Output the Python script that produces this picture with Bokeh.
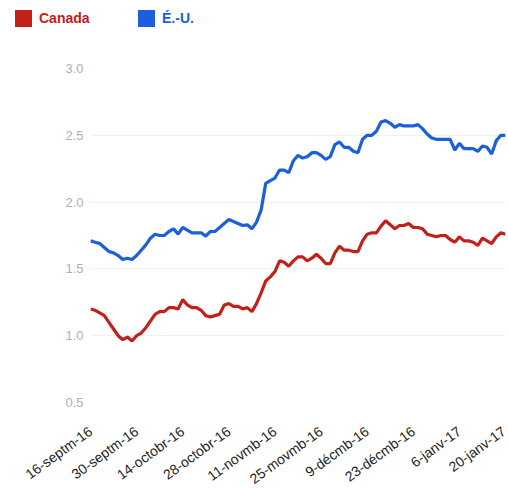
from bokeh.plotting import figure
from bokeh.layouts import column
from bokeh.models import Range1d, FixedTicker, CustomJSTickFormatter, Div
from bokeh.embed import file_html
from bokeh.resources import INLINE

tick_labels = ["16-septm-16", "30-septm-16", "14-octobr-16", "28-octobr-16", "11-novmb-16",
               "25-movmb-16", "9-décmb-16", "23-décmb-16", "6-janv-17", "20-janv-17"]

canada = [1.20, 1.19, 1.17, 1.15, 1.10, 1.05, 1.00, 0.97, 0.99, 0.96,
          1.00, 1.02, 1.06, 1.11, 1.16, 1.18, 1.18, 1.21, 1.21, 1.20,
          1.27, 1.23, 1.21, 1.21, 1.19, 1.15, 1.14, 1.15, 1.16, 1.23,
          1.24, 1.22, 1.22, 1.20, 1.21, 1.18, 1.24, 1.32, 1.41, 1.44,
          1.48, 1.56, 1.55, 1.52, 1.56, 1.59, 1.59, 1.56, 1.58, 1.61,
          1.58, 1.54, 1.54, 1.62, 1.67, 1.64, 1.64, 1.63, 1.63, 1.71,
          1.76, 1.77, 1.77, 1.82, 1.86, 1.83, 1.80, 1.825, 1.825, 1.84,
          1.81, 1.81, 1.80, 1.76, 1.75, 1.74, 1.75, 1.75, 1.72, 1.70,
          1.74, 1.71, 1.71, 1.70, 1.675, 1.73, 1.71, 1.69, 1.74, 1.77,
          1.76]

usa = [1.71, 1.70, 1.69, 1.66, 1.63, 1.62, 1.60, 1.57, 1.58, 1.57,
       1.60, 1.64, 1.68, 1.73, 1.76, 1.75, 1.75, 1.78, 1.80, 1.76,
       1.81, 1.79, 1.77, 1.77, 1.77, 1.745, 1.78, 1.78, 1.81, 1.84,
       1.87, 1.855, 1.84, 1.825, 1.83, 1.80, 1.85, 1.94, 2.14, 2.16,
       2.18, 2.24, 2.24, 2.22, 2.31, 2.35, 2.33, 2.34, 2.37, 2.37,
       2.35, 2.32, 2.34, 2.43, 2.45, 2.41, 2.41, 2.38, 2.37, 2.47,
       2.50, 2.50, 2.53, 2.60, 2.61, 2.59, 2.56, 2.58, 2.57, 2.57,
       2.57, 2.58, 2.55, 2.51, 2.48, 2.47, 2.47, 2.47, 2.47, 2.39,
       2.44, 2.40, 2.40, 2.40, 2.38, 2.42, 2.41, 2.36, 2.46, 2.50,
       2.50]

series_names = ["Canada", "É.-U."]

RED = "#c22018"
BLUE = "#1c5fdc"
FONT = "Liberation Sans"

xs = list(range(len(canada)))
tick_pos = list(range(0, len(canada), 10))

# ---- legend strip on top (HTML) ----
items_html = ""
for name, color, x0 in [(series_names[0], RED, 15), (series_names[1], BLUE, 138)]:
    items_html += (
        f'<span style="position:absolute;left:{x0}px;top:10px;width:17px;height:17px;'
        f'background:{color};"></span>'
        f'<span style="position:absolute;left:{x0 + 24}px;top:10px;line-height:17px;'
        f'color:{color};font-family:\'{FONT}\';font-weight:bold;font-size:14px;'
        f'white-space:nowrap;">{name}</span>'
    )
legend_div = Div(text=f'<div style="position:relative;width:500px;height:44px;">{items_html}</div>',
                 width=500, height=44, margin=0)

# ---- main chart ----
p = figure(frame_width=415, frame_height=334, output_backend="svg", toolbar_location=None,
           x_range=Range1d(0, len(canada) - 1), y_range=Range1d(0.5, 3.0),
           min_border_left=90, min_border_right=3, min_border_top=24, min_border_bottom=80)
p.outline_line_color = None

p.line(xs, canada, line_color=RED, line_width=3.2)
p.line(xs, usa, line_color=BLUE, line_width=3.2)

p.yaxis.ticker = FixedTicker(ticks=[0.5, 1.0, 1.5, 2.0, 2.5, 3.0])
p.yaxis.formatter = CustomJSTickFormatter(code="return tick.toFixed(1);")
p.yaxis.axis_line_color = None
p.yaxis.major_tick_line_color = None
p.yaxis.minor_tick_line_color = None
p.yaxis.major_label_text_color = "#b0b0b0"
p.yaxis.major_label_text_font = FONT
p.yaxis.major_label_text_font_size = "13px"
p.yaxis.major_label_standoff = 1

p.xaxis.ticker = FixedTicker(ticks=tick_pos)
p.xaxis.major_label_overrides = {t: lab for t, lab in zip(tick_pos, tick_labels)}
p.xaxis.major_label_orientation = 0.63
p.xaxis.axis_line_color = None
p.xaxis.major_tick_line_color = None
p.xaxis.minor_tick_line_color = None
p.xaxis.major_label_text_color = "#222222"
p.xaxis.major_label_text_font = FONT
p.xaxis.major_label_text_font_size = "14px"
p.xaxis.major_label_standoff = 21

p.xgrid.grid_line_color = None
p.ygrid.grid_line_color = "#f0f0f0"
p.ygrid.grid_line_width = 1

layout = column(legend_div, p, spacing=0)
open("out.html", "w").write(file_html(layout, INLINE))
